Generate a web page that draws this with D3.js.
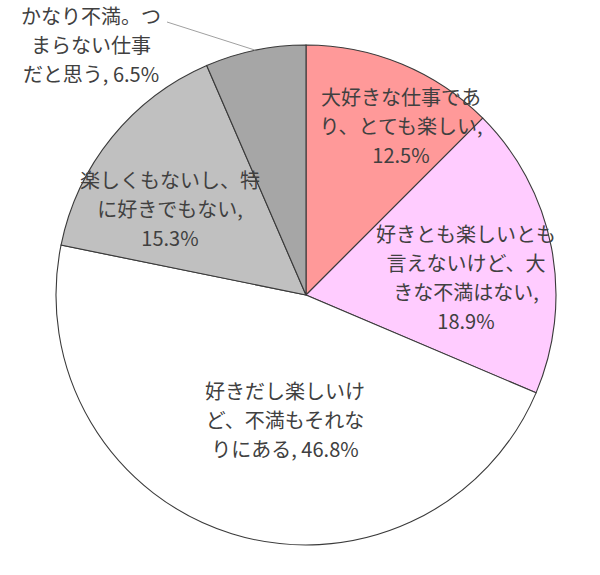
<!DOCTYPE html>
<html><head><meta charset="utf-8">
<script src="https://cdn.jsdelivr.net/npm/d3@7"></script>
<style>html,body{margin:0;padding:0;background:#fff;}</style>
</head><body>
<svg id="c" width="600" height="575"></svg>
<script>
const categories = [
  "大好きな仕事であり、とても楽しい",
  "好きとも楽しいとも言えないけど、大きな不満はない",
  "好きだし楽しいけど、不満もそれなりにある",
  "楽しくもないし、特に好きでもない",
  "かなり不満。つまらない仕事だと思う"
];
const values = [12.5, 18.9, 46.8, 15.3, 6.5];
const labelLines = [
  ["大好きな仕事であ", "り、とても楽しい,", "12.5%"],
  ["好きとも楽しいとも", "言えないけど、大", "きな不満はない,", "18.9%"],
  ["好きだし楽しいけ", "ど、不満もそれな", "りにある, 46.8%"],
  ["楽しくもないし、特", "に好きでもない,", "15.3%"],
  ["かなり不満。つ", "まらない仕事", "だと思う, 6.5%"]
];
const colors = ["#FF9999", "#FFCCFF", "#FFFFFF", "#C0C0C0", "#A6A6A6"];

const svg = d3.select("#c");
const cx = 306, cy = 295, R = 250;
const g = svg.append("g").attr("transform", `translate(${cx},${cy})`);
const pie = d3.pie().sort(null).value(d => d)(values);
const arc = d3.arc().innerRadius(0).outerRadius(R);

g.selectAll("path").data(pie).enter().append("path")
  .attr("d", arc)
  .attr("fill", (d, i) => colors[i])
  .attr("stroke", "#3a3a3a")
  .attr("stroke-width", 1.1);

const centers = [[401, 127], [466, 278], [285, 421], [170, 210], [91, 46]];
const lh = 29;
const txt = svg.append("g")
  .attr("font-family", "'Noto Sans CJK JP', 'Noto Sans', sans-serif")
  .attr("font-size", 20)
  .attr("fill", "#404040")
  .attr("text-anchor", "middle");
labelLines.forEach((lines, i) => {
  const [x, y] = centers[i];
  const y0 = y - (lines.length - 1) * lh / 2;
  lines.forEach((s, j) => {
    txt.append("text").attr("x", x).attr("y", y0 + j * lh)
      .attr("dy", "0.35em").text(s);
  });
});

// leader line for the small slice
const p = pie[4];
const mid = (p.startAngle + p.endAngle) / 2;
const ex = cx + Math.sin(mid) * R, ey = cy - Math.cos(mid) * R;
svg.append("line").attr("x1", 167).attr("y1", 22).attr("x2", ex).attr("y2", ey)
  .attr("stroke", "#A0A0A0").attr("stroke-width", 1);
</script>
</body></html>
